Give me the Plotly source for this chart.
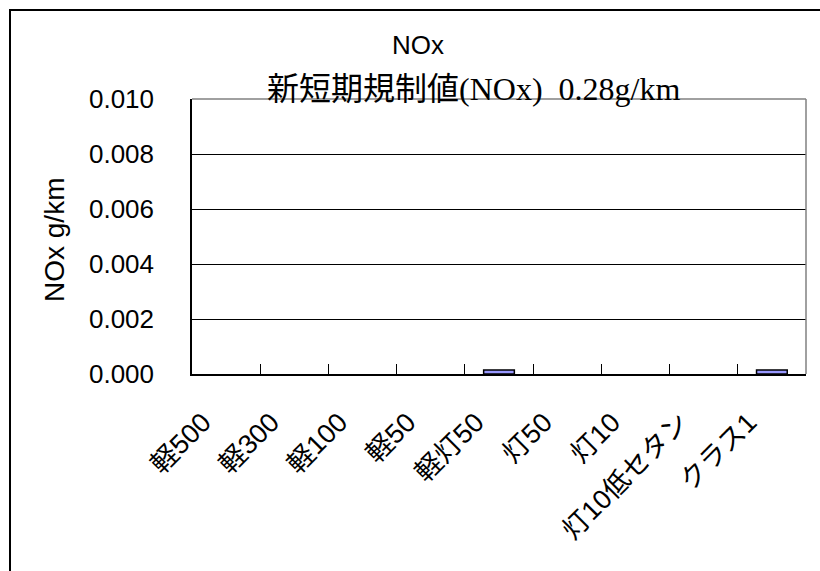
import plotly.graph_objects as go

# Categories and measured NOx emissions (g/km)
categories = ["軽500", "軽300", "軽100", "軽50", "軽灯50", "灯50", "灯10", "灯10低セタン", "クラス1"]
nox_values = [0, 0, 0, 0, 0.00015, 0, 0, 0, 0.00015]

y_tick_values = [0.000, 0.002, 0.004, 0.006, 0.008, 0.010]
y_tick_labels = ["0.000", "0.002", "0.004", "0.006", "0.008", "0.010"]

chart_title = "NOx"
limit_note = "新短期規制値(NOx)  0.28g/km"
y_title = "NOx g/km"

# Canvas and plot-area geometry (pixels)
W, H = 820, 571
L, R, T, B = 192, 14, 99, 197
PW = W - L - R
PH = H - T - B


def px_x(x):
    return (x - L) / PW


def px_y(y):
    return (H - B - y) / PH


sans = "Liberation Sans, Arial, Noto Sans CJK JP"
serif = "Liberation Serif, Times New Roman, Noto Sans CJK JP"

# zero readings leave no visible bar
bar_heights = [v if v > 0 else None for v in nox_values]

fig = go.Figure(
    go.Bar(
        x=categories,
        y=bar_heights,
        marker=dict(color="#9999FF", line=dict(color="black", width=1.5)),
        hoverinfo="x+y",
    )
)

fig.update_layout(
    width=W,
    height=H,
    margin=dict(l=L, r=R, t=T, b=B, pad=0),
    paper_bgcolor="white",
    plot_bgcolor="white",
    bargap=0.55,
    showlegend=False,
    font=dict(family=sans, color="black"),
    xaxis=dict(
        type="category",
        categoryorder="array",
        categoryarray=categories,
        showline=True,
        linecolor="black",
        linewidth=1.5,
        ticks="inside",
        tickson="boundaries",
        ticklen=10,
        tickwidth=1,
        tickcolor="black",
        tickangle=-45,
        ticklabelstandoff=20,
        ticklabelshift=-23,
        tickfont=dict(family=sans, size=27, color="black"),
        showgrid=False,
        zeroline=False,
    ),
    yaxis=dict(
        range=[0, 0.010],
        tickvals=y_tick_values,
        ticktext=y_tick_labels,
        tickfont=dict(family=sans, size=26, color="black"),
        ticks="",
        ticklabelstandoff=31,
        showgrid=True,
        gridcolor="black",
        gridwidth=1,
        showline=True,
        linecolor="black",
        linewidth=1.5,
        zeroline=False,
    ),
    shapes=[
        # gray top and right borders of the plot area
        dict(type="line", xref="paper", yref="paper", x0=0, x1=1, y0=1, y1=1,
             line=dict(color="#808080", width=1.5), layer="above"),
        dict(type="line", xref="paper", yref="paper", x0=1, x1=1, y0=0, y1=1,
             line=dict(color="#808080", width=1.5), layer="above"),
        # outer chart frame
        dict(type="rect", xref="paper", yref="paper",
             x0=px_x(10), x1=px_x(W + 20), y0=px_y(H + 20), y1=px_y(10),
             line=dict(color="black", width=2), fillcolor="rgba(0,0,0,0)", layer="above"),
    ],
    annotations=[
        dict(text=chart_title, xref="paper", yref="paper", x=px_x(418), y=px_y(45),
             showarrow=False, xanchor="center", yanchor="middle",
             font=dict(family=sans, size=26, color="black")),
        dict(text=limit_note, xref="paper", yref="paper", x=px_x(473), y=px_y(89),
             showarrow=False, xanchor="center", yanchor="middle",
             font=dict(family=serif, size=32, color="black")),
        dict(text=y_title, xref="paper", yref="paper", x=px_x(54), y=px_y(240),
             showarrow=False, xanchor="center", yanchor="middle", textangle=-90,
             font=dict(family=sans, size=28, color="black")),
    ],
)

fig.write_html("out.html")
